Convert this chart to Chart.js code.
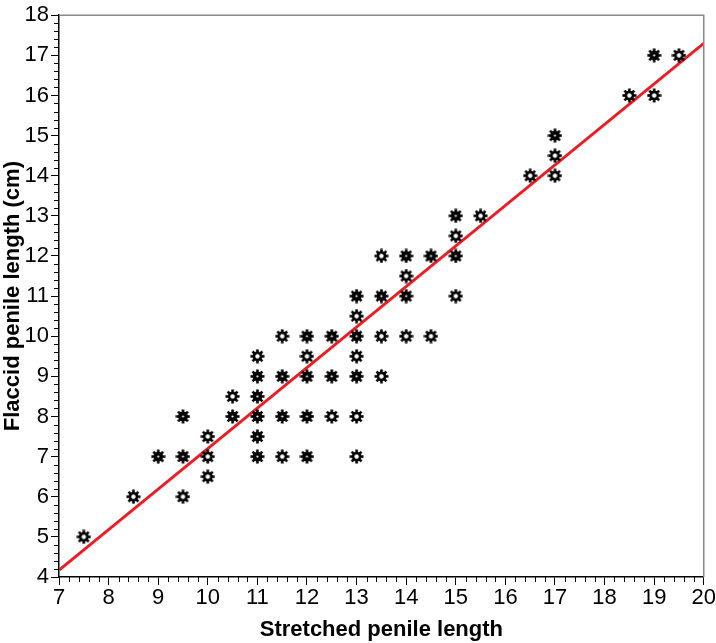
<!DOCTYPE html>
<html>
<head>
<meta charset="utf-8">
<script src="https://cdn.jsdelivr.net/npm/chart.js@4.4.1/dist/chart.umd.min.js"></script>
<style>
  html, body { margin: 0; padding: 0; background: #fff; }
  #wrap { width: 716px; height: 643px; }
</style>
</head>
<body>
<div id="wrap"><canvas id="penileChart" width="716" height="643"></canvas></div>
<script>
// Stretched (x) vs flaccid (y) length, one entry per visible marker
const stretched = [7.5, 8.5, 9, 9.5, 9.5, 9.5, 10, 10, 10, 10.5, 10.5,
    11, 11, 11, 11, 11, 11, 11.5, 11.5, 11.5, 11.5,
    12, 12, 12, 12, 12, 12.5, 12.5, 12.5,
    13, 13, 13, 13, 13, 13, 13, 13.5, 13.5, 13.5, 13.5,
    14, 14, 14, 14, 14.5, 14.5, 15, 15, 15, 15, 15.5,
    16.5, 17, 17, 17, 18.5, 19, 19, 19.5];
const flaccid = [5, 6, 7, 8, 7, 6, 7.5, 7, 6.5, 8.5, 8,
    9.5, 9, 8.5, 8, 7.5, 7, 10, 9, 8, 7,
    10, 9.5, 9, 8, 7, 10, 9, 8,
    11, 10.5, 10, 9.5, 9, 8, 7, 12, 11, 10, 9,
    12, 11.5, 11, 10, 12, 10, 13, 12.5, 12, 11, 13,
    14, 15, 14.5, 14, 16, 17, 16, 17];
// heavier markers where several subjects overlap
const overlap = [1, 1, 2, 2, 2, 1, 1, 1, 1, 1, 2,
    1, 2, 2, 2, 2, 2, 1, 2, 2, 1,
    2, 1, 2, 2, 2, 2, 2, 1,
    2, 1, 2, 1, 2, 1, 1, 1, 2, 1, 1,
    2, 1, 2, 1, 2, 1, 2, 1, 2, 1, 1,
    1, 2, 1, 1, 1, 2, 1, 1];
// fitted line end points
const fitX = [7, 20];
const fitY = [4.17, 17.3];

const xRange = [7, 20];
const yRange = [4, 18];

function makeGear(hole) {
    const c = document.createElement('canvas');
    c.width = 15; c.height = 15;
    const g = c.getContext('2d');
    g.translate(7.5, 7.5);
    g.fillStyle = '#000';
    g.beginPath();
    g.arc(0, 0, 4.8, 0, Math.PI * 2);
    g.fill();
    for (let i = 0; i < 8; i++) {
        g.save();
        g.rotate(i * Math.PI / 4);
        g.fillRect(-1.3, -7, 2.6, 4);
        g.restore();
    }
    g.fillStyle = '#fff';
    g.beginPath();
    g.arc(0, 0, hole, 0, Math.PI * 2);
    g.fill();
    return c;
}
const lightGear = makeGear(2.2);
const boldGear = makeGear(1.1);

const points = stretched.map((x, i) => ({ x: x, y: flaccid[i] }));

// frame on top/right and minor ticks on both axes
const framePlugin = {
    id: 'frame',
    afterDraw(chart) {
        const { ctx, chartArea: a, scales } = chart;
        ctx.save();
        ctx.strokeStyle = '#888';
        ctx.lineWidth = 1.5;
        ctx.beginPath();
        ctx.moveTo(a.left, a.top);
        ctx.lineTo(a.right, a.top);
        ctx.lineTo(a.right, a.bottom);
        ctx.stroke();
        ctx.strokeStyle = '#000';
        ctx.lineWidth = 1;
        ctx.beginPath();
        for (let v = xRange[0]; v < xRange[1]; v += 1) {
            for (let k = 1; k < 5; k++) {
                const px = Math.round(scales.x.getPixelForValue(v + k * 0.2)) + 0.5;
                ctx.moveTo(px, a.bottom);
                ctx.lineTo(px, a.bottom + 5);
            }
        }
        for (let v = yRange[0]; v < yRange[1]; v += 1) {
            for (let k = 1; k < 5; k++) {
                const py = Math.round(scales.y.getPixelForValue(v + k * 0.2)) + 0.5;
                ctx.moveTo(a.left, py);
                ctx.lineTo(a.left - 5, py);
            }
        }
        ctx.stroke();
        ctx.restore();
    }
};

const tickFont = { family: "'Liberation Sans Narrow', 'Liberation Sans', Arial, sans-serif", size: 22 };
const titleFont = { family: "'Liberation Sans', Arial, sans-serif", size: 22, weight: 'bold' };

const ctx = document.getElementById('penileChart').getContext('2d');
new Chart(ctx, {
    type: 'scatter',
    data: {
        datasets: [{
            type: 'line',
            data: fitX.map((x, i) => ({ x: x, y: fitY[i] })),
            borderColor: '#ec1c24',
            borderWidth: 3,
            pointRadius: 0,
            fill: false,
            order: 1
        }, {
            data: points,
            pointStyle: (c) => overlap[c.dataIndex] > 1 ? boldGear : lightGear,
            pointRadius: 7,
            order: 0
        }]
    },
    options: {
        responsive: false,
        animation: false,
        layout: { padding: { top: 10, right: 9, left: 0, bottom: 0 } },
        plugins: {
            legend: { display: false },
            tooltip: { enabled: false },
            frame: {}
        },
        scales: {
            x: {
                type: 'linear',
                min: xRange[0],
                max: xRange[1],
                afterFit(s) { s.height = 66; },
                border: { color: '#000', width: 1.5 },
                grid: { drawOnChartArea: false, drawTicks: true, tickLength: 8, color: '#000' },
                ticks: { stepSize: 1, color: '#000', font: tickFont, padding: 0, maxRotation: 0 },
                title: { display: true, text: 'Stretched penile length', color: '#000', font: titleFont, padding: { top: 2, bottom: 0 } }
            },
            y: {
                type: 'linear',
                min: yRange[0],
                max: yRange[1],
                afterFit(s) { s.width = 59; },
                border: { color: '#000', width: 1.5 },
                grid: { drawOnChartArea: false, drawTicks: true, tickLength: 8, color: '#000' },
                ticks: { stepSize: 1, color: '#000', font: tickFont, padding: 2 },
                title: { display: true, text: 'Flaccid penile length (cm)', color: '#000', font: titleFont, padding: { top: 0, bottom: 4 } }
            }
        }
    },
    plugins: [framePlugin]
});
</script>
</body>
</html>
